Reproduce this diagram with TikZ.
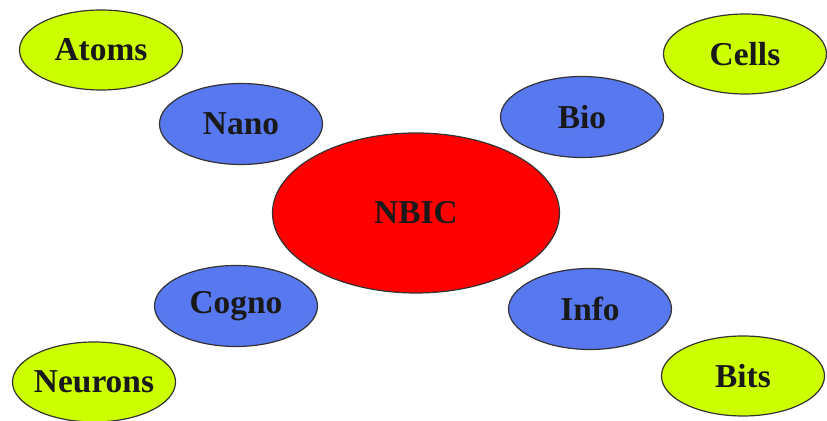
\documentclass[tikz,border=0pt]{standalone}
\usepackage{fontspec}
\setmainfont{Liberation Serif}
\usetikzlibrary{shapes.geometric}

\definecolor{vertJaune}{RGB}{204,255,0}
\definecolor{bleuDomaine}{RGB}{88,120,240}
\definecolor{rougeCentre}{RGB}{255,0,0}

\tikzset{
  bulle/.style={ellipse, draw=black!80, line width=0.6pt, inner ysep=0pt, inner xsep=-8pt,
    font=\fontsize{16.7}{20}\selectfont\bfseries, text=black!90},
  objet/.style={bulle, fill=vertJaune, minimum width=81.5pt, minimum height=40pt},
  domaine/.style={bulle, fill=bleuDomaine, minimum width=81.5pt, minimum height=40.5pt},
  centre/.style={bulle, fill=rougeCentre, minimum width=143.5pt, minimum height=80pt}
}

\begin{document}
\begin{tikzpicture}[x=0.5pt, y=-0.5pt]
        % Cadre
        \useasboundingbox (0,0) rectangle (827,421);

        % Ellipse centrale
        \node[centre] (nbic) at (416,213) {NBIC};

        % Les quatre domaines
        \node[domaine] (nano) at (241,124) {Nano};
        \node[domaine] (bio) at (582,117) {Bio};
        \node[domaine] (cogno) at (236,306) {Cogno};
        \node[domaine] (info) at (590,309) {Info};

        % Objets de base (coins)
        \node[objet] (atoms) at (101,50) {Atoms};
        \node[objet] (cells) at (745,54) {Cells};
        \node[objet] (neurons) at (94,382) {Neurons};
        \node[objet] (bits) at (743,376) {Bits};

    \end{tikzpicture}
\end{document}
